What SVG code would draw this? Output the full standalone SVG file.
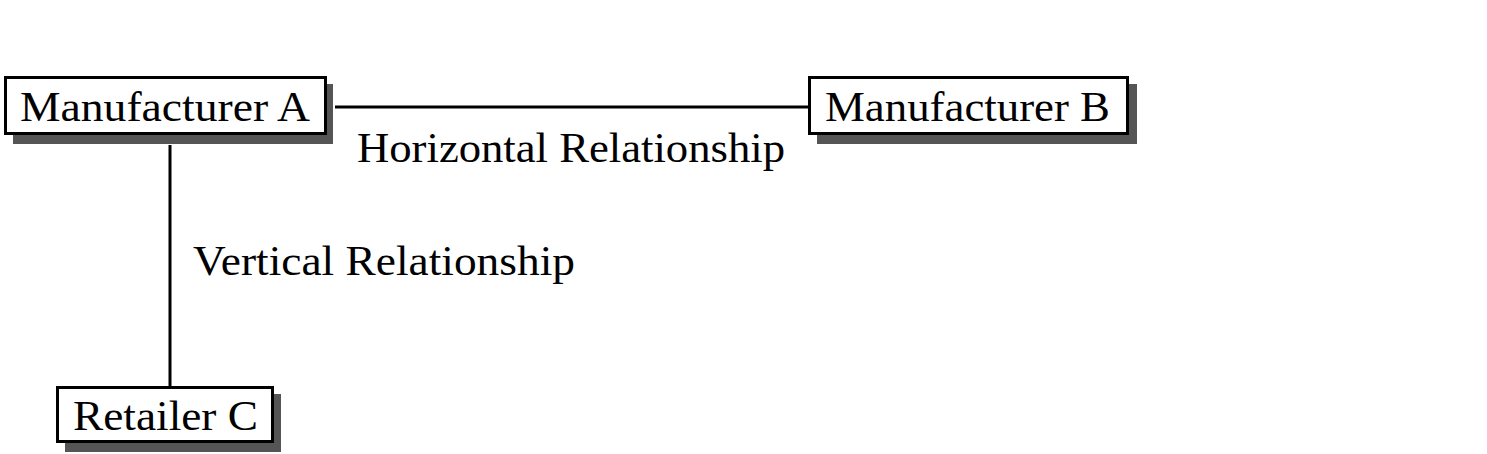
<svg xmlns="http://www.w3.org/2000/svg" width="1487" height="454" viewBox="0 0 1487 454">
<style>
.box{fill:#fff;stroke:#000;stroke-width:3}
.sh{fill:#555}
.t{font-family:"Liberation Serif",serif;font-size:43px;fill:#000}
.e{stroke:#000;stroke-width:3;fill:none}
</style>
<rect width="1487" height="454" fill="#fff"/>
<g id="edges">
<line class="e" x1="335" y1="107" x2="809" y2="107"/>
<line class="e" x1="170" y1="145" x2="170" y2="387"/>
<text class="t" x="357" y="162" textLength="428" lengthAdjust="spacingAndGlyphs">Horizontal Relationship</text>
<text class="t" x="193" y="275" textLength="382" lengthAdjust="spacingAndGlyphs">Vertical Relationship</text>
</g>
<g id="manufacturerA">
<rect class="sh" x="13" y="84" width="320" height="60"/>
<rect class="box" x="5.5" y="77.5" width="320" height="56"/>
<text class="t" x="20" y="121" textLength="290" lengthAdjust="spacingAndGlyphs">Manufacturer A</text>
</g>
<g id="manufacturerB">
<rect class="sh" x="817" y="84" width="320" height="60"/>
<rect class="box" x="809.5" y="77.5" width="318" height="56"/>
<text class="t" x="825" y="121" textLength="285" lengthAdjust="spacingAndGlyphs">Manufacturer B</text>
</g>
<g id="retailerC">
<rect class="sh" x="65" y="394" width="216" height="58"/>
<rect class="box" x="57.5" y="387.5" width="215" height="54"/>
<text class="t" x="73" y="430" textLength="185" lengthAdjust="spacingAndGlyphs">Retailer C</text>
</g>
</svg>
